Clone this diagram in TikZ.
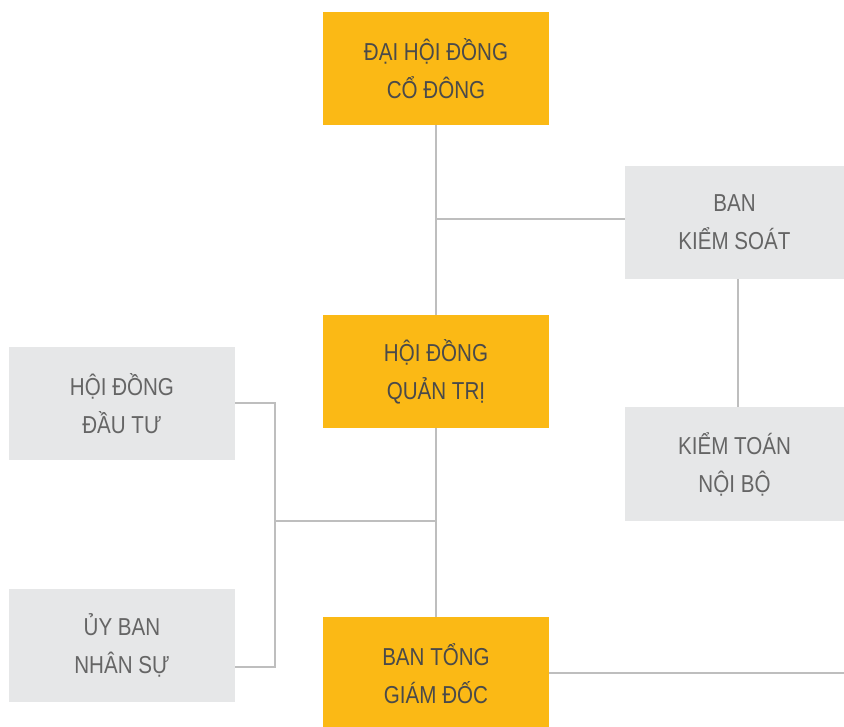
\documentclass[tikz,border=0pt]{standalone}
\usepackage{fontspec}
\setmainfont[FakeStretch=0.84]{Liberation Sans}
\definecolor{orgbox}{HTML}{FBB915}
\definecolor{graybox}{HTML}{E6E7E8}
\definecolor{txtc}{HTML}{4A4A4A}
\definecolor{linec}{HTML}{BEBEBE}
\tikzset{
  orgnode/.style={fill=orgbox, draw=none, minimum width=226pt, minimum height=113pt, inner sep=0pt, align=center, text=txtc, font=\fontsize{24.5}{38}\selectfont},
  graynode/.style={fill=graybox, draw=none, minimum width=219pt, minimum height=113pt, inner sep=0pt, align=center, text=txtc!85!white, font=\fontsize{24.5}{38}\selectfont},
  conn/.style={draw=linec, line width=2pt}
}
\begin{document}
\begin{tikzpicture}[x=1pt,y=-1pt]
\useasboundingbox (0,0) rectangle (844,727);
\node[orgnode] (dhd) at (436,68.5) {ĐẠI HỘI ĐỒNG\\CỔ ĐÔNG};
\node[graynode] (bks) at (734.5,222.5) {BAN\\KIỂM SOÁT};
\node[orgnode] (hdqt) at (436,371.5) {HỘI ĐỒNG\\QUẢN TRỊ};
\node[graynode, minimum width=226pt] (hddt) at (122,403.5) {HỘI ĐỒNG\\ĐẦU TƯ};
\node[graynode, minimum height=114pt] (ktnb) at (734.5,464) {KIỂM TOÁN\\NỘI BỘ};
\node[graynode, minimum width=226pt] (ubns) at (122,645.5) {ỦY BAN\\NHÂN SỰ};
\node[orgnode] (btgd) at (436,673.5) {BAN TỔNG\\GIÁM ĐỐC};

\coordinate (j1) at (436,219);
\coordinate (j2) at (275,403);
\coordinate (j3) at (275,667);
\coordinate (j4) at (275,521);
\coordinate (j5) at (436,521);
\coordinate (rend) at (844,673);

\begin{scope}[on background layer/.style={}]
\draw[conn] (dhd.south) -- (hdqt.north);
\draw[conn] (j1) -- (j1 -| bks.west);
\draw[conn] ([xshift=3.5pt]bks.south) -- ([xshift=3.5pt]ktnb.north);
\draw[conn] (hdqt.south) -- (btgd.north);
\draw[conn] (hddt.east |- j2) -- (j2) -- (j3) -- (ubns.east |- j3);
\draw[conn] (j4) -- (j5);
\draw[conn] (btgd.east |- rend) -- (rend);
\end{scope}
\end{tikzpicture}
\end{document}
